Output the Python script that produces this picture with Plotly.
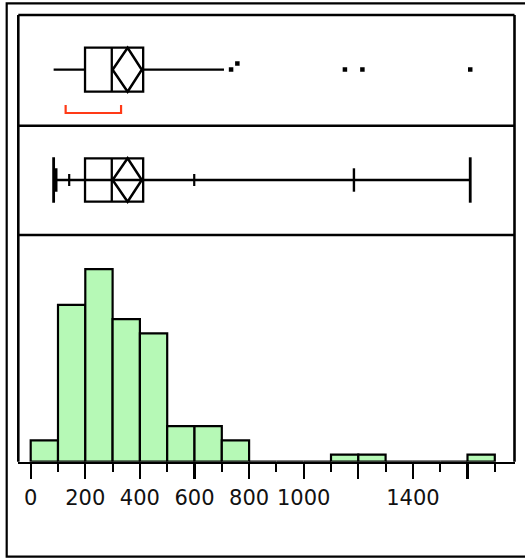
import plotly.graph_objects as go

# ---------------- data ----------------
bin_starts = [0, 100, 200, 300, 400, 500, 600, 700, 800, 900, 1000, 1100, 1200, 1300, 1400, 1500, 1600]
counts = [3, 22, 27, 20, 18, 5, 5, 3, 0, 0, 0, 1, 1, 0, 0, 0, 1]
bin_width = 100

outliers = [734, 757, 1151, 1215, 1610]
outlier_stack = [0, 1, 0, 0, 0]

q_min = 84
q1 = 199
median = 297
q3 = 412
upper_whisker = 708
mean = 355
mean_ci = [300, 407]
shortest_half = [128, 331]

quant_levels = ["0.5%", "2.5%", "10%", "90%", "97.5%", "99.5%"]
quant_values = [84, 93, 141, 599, 1184, 1610]
q_max = 1610

tick_values = [0, 200, 400, 600, 800, 1000, 1200, 1400, 1600]
tick_labels = ["0", "200", "400", "600", "800", "1000", "", "1400", ""]

# ---------------- layout geometry (pixels) ----------------
W, H = 525, 558
PX0, PX1 = 18.3, 514.5          # panel left/right
P_TOP, P_DIV1, P_DIV2, P_AXIS = 15, 125.7, 235, 461.7
X_ORIGIN, X_SCALE = 30.7, 0.273  # pixel of value 0, px per unit

xr = [(PX0 - X_ORIGIN) / X_SCALE, (PX1 - X_ORIGIN) / X_SCALE]

BLACK = "#000000"
GREEN = "#b6f9b6"
RED = "#ff3a17"
LW = 2.3

fig = go.Figure()

fig.add_trace(go.Bar(
    x=[s + bin_width / 2 for s in bin_starts], y=counts, width=bin_width,
    marker=dict(color=GREEN, line=dict(color=BLACK, width=2.2)),
    xaxis="x", yaxis="y", hoverinfo="skip",
))

fig.add_trace(go.Scatter(
    x=outliers, y=[69.5 - 6 * s for s in outlier_stack], mode="markers",
    marker=dict(symbol="square", size=4.5, color=BLACK, line=dict(width=0)),
    xaxis="x", yaxis="y2", hoverinfo="skip",
))

shapes = []


def line(x0, y0, x1, y1, w=LW, color=BLACK, xref="x"):
    shapes.append(dict(type="line", xref=xref, yref="y2", x0=x0, x1=x1, y0=y0, y1=y1,
                       line=dict(color=color, width=w)))


def box(cy, hh):
    shapes.append(dict(type="rect", xref="x", yref="y2", x0=q1, x1=q3, y0=cy - hh, y1=cy + hh,
                       line=dict(color=BLACK, width=LW)))
    line(median, cy - hh, median, cy + hh)
    path = (f"M {mean_ci[0]},{cy} L {mean},{cy - hh} L {mean_ci[1]},{cy} "
            f"L {mean},{cy + hh} Z")
    shapes.append(dict(type="path", xref="x", yref="y2", path=path,
                       line=dict(color=BLACK, width=2.5)))


# outlier box plot
c1 = 69.7
line(q_min, c1, q1, c1)
line(q3, c1, upper_whisker, c1)
box(c1, 22)
sh_path = (f"M {shortest_half[0]},105 L {shortest_half[0]},113 "
           f"L {shortest_half[1]},113 L {shortest_half[1]},105")
shapes.append(dict(type="path", xref="x", yref="y2", path=sh_path,
                   line=dict(color=RED, width=2.2)))

# quantile box plot
c2 = 180
line(q_min, c2, q_max, c2)
box(c2, 21.7)
half_heights = {"0.5%": 22.7, "99.5%": 22.7, "2.5%": 11.7, "97.5%": 11.7, "10%": 6, "90%": 6}
widths = {"0.5%": 2.8, "99.5%": 2.8, "2.5%": 2.8, "97.5%": 2.4, "10%": 2.2, "90%": 2.2}
for lvl, v in zip(quant_levels, quant_values):
    hh = half_heights[lvl]
    line(v, c2 - hh, v, c2 + hh, w=widths[lvl])

# frames
for y in (P_TOP, P_DIV1, P_DIV2):
    line(PX0 / W, y, PX1 / W, y, w=2.6, xref="paper")
line(PX0 / W, P_TOP, PX0 / W, P_AXIS, w=2.6, xref="paper")
line(PX1 / W, P_TOP, PX1 / W, P_AXIS, w=2.6, xref="paper")
shapes.append(dict(type="rect", xref="paper", yref="y2", x0=6.7 / W, x1=1.05, y0=3.3, y1=556.7,
                   line=dict(color=BLACK, width=2.2)))

hist_top = 235
ymax = (P_AXIS - hist_top) / 7.13

fig.update_layout(
    width=W, height=H, margin=dict(l=0, r=0, t=0, b=0),
    paper_bgcolor="white", plot_bgcolor="rgba(0,0,0,0)", showlegend=False, bargap=0,
    shapes=shapes,
    xaxis=dict(domain=[PX0 / W, PX1 / W], range=xr, anchor="y",
               showline=True, linecolor=BLACK, linewidth=2.6,
               showgrid=False, zeroline=False,
               tickmode="array", tickvals=tick_values, ticktext=tick_labels,
               ticks="outside", ticklen=15, tickwidth=2.2, tickcolor=BLACK,
               minor=dict(dtick=100, tick0=0, ticks="outside", ticklen=8, tickwidth=2.2,
                          tickcolor=BLACK, showgrid=False),
               tickfont=dict(family="DejaVu Sans", size=21, color="#111111")),
    yaxis=dict(domain=[1 - P_AXIS / H, 1 - hist_top / H], range=[0, ymax],
               visible=False, fixedrange=True),
    yaxis2=dict(domain=[0, 1], range=[H, 0], anchor="x", visible=False),
)

fig.write_html("out.html", config={"displayModeBar": False, "staticPlot": True},
               post_script="document.body.style.margin='0';document.body.style.overflow='hidden';")
